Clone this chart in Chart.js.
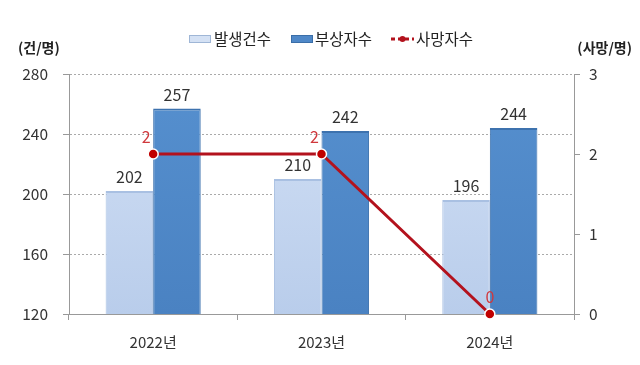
<!DOCTYPE html>
<html>
<head>
<meta charset="utf-8">
<script src="https://cdn.jsdelivr.net/npm/chart.js@4"></script>
<style>
  html, body { margin: 0; padding: 0; background: #fff; }
  #wrap { width: 640px; height: 365px; }
</style>
</head>
<body>
<div id="wrap"><canvas id="chart" width="640" height="365"></canvas></div>
<script>
// Data
const years = ['2022년', '2023년', '2024년'];
const incidents = [202, 210, 196];   // 발생건수
const injured = [257, 242, 244];     // 부상자수
const deaths = [2, 2, 0];            // 사망자수
const leftTicks = [120, 160, 200, 240, 280];
const rightTicks = [0, 1, 2, 3];

const FONT = '"Noto Sans CJK KR", "Noto Sans", sans-serif';

// bevel-ish vertical gradient for bars
function barFill(ctx, light) {
    const chart = ctx.chart;
    const area = chart.chartArea;
    if (!area) return light ? '#c3d5f0' : '#4f88c8';
    const g = chart.ctx.createLinearGradient(0, area.top, 0, area.bottom);
    if (light) {
        g.addColorStop(0, '#d2e0f5');
        g.addColorStop(1, '#b9cdeb');
    } else {
        g.addColorStop(0, '#5690cf');
        g.addColorStop(1, '#4a82c2');
    }
    return g;
}

const labelPlugin = {
    id: 'labels',
    afterDatasetsDraw(chart) {
        const c = chart.ctx;
        c.save();
        c.textAlign = 'center';
        c.textBaseline = 'bottom';
        c.font = '16px ' + FONT;
        c.fillStyle = '#333';
        [0, 1].forEach(i => {
            chart.getDatasetMeta(i).data.forEach((el, j) => {
                const v = chart.data.datasets[i].data[j];
                c.fillText(String(v), el.x, el.y - 6);
            });
        });
        c.fillStyle = '#d0393d';
        chart.getDatasetMeta(2).data.forEach((el, j) => {
            const v = chart.data.datasets[2].data[j];
            const dx = v === 0 ? 0 : -7;
            c.fillText(String(v), el.x + dx, el.y - 9);
        });
        c.restore();
    },
    afterDraw(chart) {
        const c = chart.ctx;
        c.save();
        // axis unit titles
        c.font = 'bold 14px ' + FONT;
        c.fillStyle = '#222';
        c.textBaseline = 'middle';
        c.textAlign = 'left';
        c.fillText('(건/명)', 18, 48);
        c.textAlign = 'right';
        c.fillText('(사망/명)', 632, 48);

        // legend
        c.font = '15.5px ' + FONT;
        c.textAlign = 'left';
        const y = 39;
        // 발생건수
        c.fillStyle = '#d4e1f4';
        c.fillRect(189, y - 4, 22, 8);
        c.strokeStyle = '#9fb6d6';
        c.lineWidth = 1;
        c.strokeRect(189.5, y - 3.5, 21, 7);
        c.fillStyle = '#222';
        c.fillText('발생건수', 214, y);
        // 부상자수
        c.fillStyle = '#4f88c8';
        c.fillRect(291, y - 4, 22, 8);
        c.strokeStyle = '#3a6ea8';
        c.strokeRect(291.5, y - 3.5, 21, 7);
        c.fillStyle = '#222';
        c.fillText('부상자수', 315, y);
        // 사망자수
        c.strokeStyle = '#b3121d';
        c.lineWidth = 3;
        c.setLineDash([4, 3]);
        c.beginPath();
        c.moveTo(391, y);
        c.lineTo(414, y);
        c.stroke();
        c.setLineDash([]);
        c.fillStyle = '#b3121d';
        c.beginPath();
        c.arc(402.5, y, 3, 0, Math.PI * 2);
        c.fill();
        c.fillStyle = '#222';
        c.fillText('사망자수', 416, y);
        c.restore();
    }
};

new Chart(document.getElementById('chart'), {
    data: {
        labels: years,
        datasets: [
            {
                type: 'bar',
                label: '발생건수',
                data: incidents,
                yAxisID: 'y',
                backgroundColor: ctx => barFill(ctx, true),
                borderColor: '#a9c0e2',
                borderWidth: { top: 2, left: 1, right: 1, bottom: 0 },
                categoryPercentage: 0.565,
                barPercentage: 1.0,
                order: 2
            },
            {
                type: 'bar',
                label: '부상자수',
                data: injured,
                yAxisID: 'y',
                backgroundColor: ctx => barFill(ctx, false),
                borderColor: '#3d72ae',
                borderWidth: { top: 2, left: 1, right: 1, bottom: 0 },
                categoryPercentage: 0.565,
                barPercentage: 1.0,
                order: 2
            },
            {
                type: 'line',
                label: '사망자수',
                data: deaths,
                yAxisID: 'y2',
                borderColor: '#b3121d',
                borderWidth: 3,
                pointRadius: 5,
                pointBackgroundColor: '#c00000',
                pointBorderColor: '#ffffff',
                pointBorderWidth: 1.5,
                tension: 0,
                clip: false,
                order: 1
            }
        ]
    },
    options: {
        responsive: false,
        animation: false,
        layout: { padding: { top: 74, left: 0, right: 0, bottom: 1 } },
        plugins: {
            legend: { display: false },
            tooltip: { enabled: false }
        },
        scales: {
            x: {
                grid: {
                    display: true,
                    drawOnChartArea: false,
                    offset: true,
                    color: '#999',
                    tickLength: 6
                },
                border: { color: '#999' },
                ticks: {
                    color: '#333',
                    font: { family: FONT, size: 15 },
                    padding: 13
                }
            },
            y: {
                position: 'left',
                min: 120,
                max: 280,
                afterBuildTicks: axis => { axis.ticks = leftTicks.map(v => ({ value: v })); },
                afterFit: axis => { axis.width = 69; },
                grid: {
                    color: '#aaa',
                    tickLength: 6,
                    tickColor: '#999',
                    tickBorderDash: [0, 0]
                },
                border: { color: '#999', dash: [2, 2] },
                ticks: {
                    color: '#333',
                    font: { family: FONT, size: 15.5 },
                    padding: 15
                }
            },
            y2: {
                position: 'right',
                min: 0,
                max: 3,
                afterBuildTicks: axis => { axis.ticks = rightTicks.map(v => ({ value: v })); },
                afterFit: axis => { axis.width = 66; },
                grid: {
                    drawOnChartArea: false,
                    color: '#999',
                    tickLength: 6
                },
                border: { color: '#999' },
                ticks: {
                    color: '#333',
                    font: { family: FONT, size: 15.5 },
                    padding: 9
                }
            }
        }
    },
    plugins: [labelPlugin]
});
</script>
</body>
</html>
